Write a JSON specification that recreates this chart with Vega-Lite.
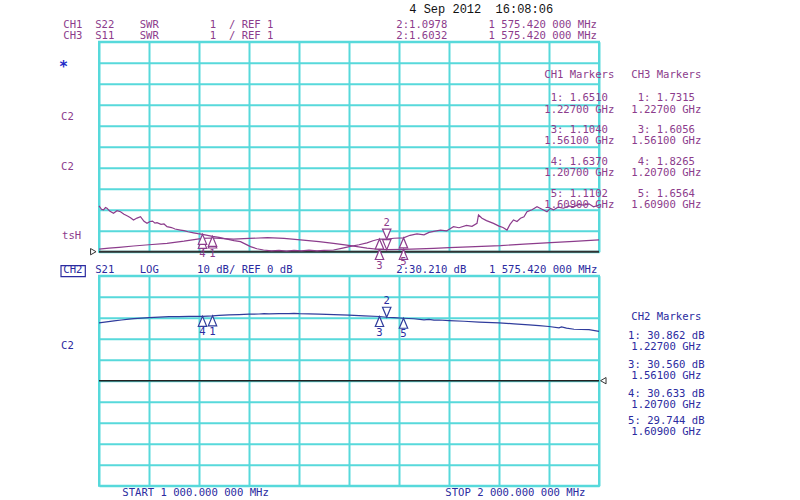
{
  "$schema": "https://vega.github.io/schema/vega-lite/v6.json",
  "background": "white",
  "padding": {"left": 58, "top": 1.7, "right": 5, "bottom": 2},
  "bounds": "flush",
  "spacing": 24,
  "config": {
    "view": {"stroke": "#57D9DB", "strokeWidth": 2},
    "axis": {"grid": true, "labels": false, "ticks": false, "domain": false, "gridColor": "#57D9DB", "gridWidth": 2, "gridOpacity": 1},
    "text": {"font": "DejaVu Sans Mono", "fontSize": 10.6},
    "font": "DejaVu Sans Mono"
  },
  "datasets": {
    "s11": [
      {"f":1000,"v":3.18},{"f":1005,"v":3.02},{"f":1009,"v":2.99},{"f":1013,"v":3.10},{"f":1016,"v":3.07},{"f":1022,"v":2.92},{"f":1029,"v":2.83},{"f":1036,"v":2.95},{"f":1043,"v":2.90},{"f":1050,"v":2.78},{"f":1057,"v":2.70},{"f":1063,"v":2.62},{"f":1069,"v":2.51},{"f":1076,"v":2.60},{"f":1083,"v":2.67},{"f":1090,"v":2.45},{"f":1096,"v":2.35},{"f":1102,"v":2.44},{"f":1107,"v":2.46},{"f":1112,"v":2.36},{"f":1116,"v":2.38},{"f":1124,"v":2.30},{"f":1130,"v":2.32},{"f":1136,"v":2.19},{"f":1145,"v":2.15},{"f":1152,"v":2.08},{"f":1163,"v":2.03},{"f":1170,"v":2.00},{"f":1178,"v":1.95},{"f":1189,"v":1.90},{"f":1198,"v":1.86},{"f":1207,"v":1.8265},{"f":1217,"v":1.78},{"f":1227,"v":1.7315},{"f":1240,"v":1.68},{"f":1256,"v":1.60},{"f":1270,"v":1.53},{"f":1283,"v":1.48},{"f":1293,"v":1.36},{"f":1303,"v":1.24},{"f":1316,"v":1.14},{"f":1329,"v":1.08},{"f":1345,"v":1.04},{"f":1360,"v":1.06},{"f":1375,"v":1.03},{"f":1390,"v":1.06},{"f":1405,"v":1.04},{"f":1420,"v":1.07},{"f":1436,"v":1.04},{"f":1450,"v":1.06},{"f":1469,"v":1.08},{"f":1485,"v":1.16},{"f":1503,"v":1.25},{"f":1520,"v":1.33},{"f":1536,"v":1.42},{"f":1548,"v":1.52},{"f":1561,"v":1.6056},{"f":1575.42,"v":1.6032},{"f":1590,"v":1.64},{"f":1609,"v":1.6564},{"f":1622,"v":1.78},{"f":1636,"v":1.85},{"f":1650,"v":1.80},{"f":1660,"v":1.92},{"f":1672,"v":1.98},{"f":1683,"v":2.03},{"f":1695,"v":1.99},{"f":1709,"v":2.19},{"f":1720,"v":2.14},{"f":1735,"v":2.25},{"f":1746,"v":2.21},{"f":1756,"v":2.35},{"f":1759,"v":2.75},{"f":1766,"v":2.59},{"f":1775,"v":2.48},{"f":1789,"v":2.35},{"f":1800,"v":2.22},{"f":1808,"v":2.15},{"f":1816,"v":2.03},{"f":1822,"v":2.30},{"f":1829,"v":2.51},{"f":1836,"v":2.44},{"f":1843,"v":2.59},{"f":1850,"v":2.66},{"f":1856,"v":2.90},{"f":1866,"v":3.00},{"f":1876,"v":3.14},{"f":1886,"v":3.02},{"f":1896,"v":2.90},{"f":1903,"v":3.06},{"f":1909,"v":2.99},{"f":1918,"v":3.12},{"f":1929,"v":3.07},{"f":1940,"v":3.18},{"f":1949,"v":3.14},{"f":1960,"v":3.25},{"f":1969,"v":3.22},{"f":1980,"v":3.28},{"f":1989,"v":3.14},{"f":2000,"v":3.22}
    ],
    "s22": [
      {"f":1000,"v":1.12},{"f":1020,"v":1.17},{"f":1040,"v":1.21},{"f":1069,"v":1.27},{"f":1100,"v":1.33},{"f":1136,"v":1.40},{"f":1170,"v":1.50},{"f":1207,"v":1.637},{"f":1227,"v":1.651},{"f":1250,"v":1.62},{"f":1269,"v":1.60},{"f":1300,"v":1.63},{"f":1337,"v":1.67},{"f":1370,"v":1.63},{"f":1403,"v":1.56},{"f":1440,"v":1.48},{"f":1469,"v":1.40},{"f":1503,"v":1.29},{"f":1536,"v":1.17},{"f":1561,"v":1.104},{"f":1575.42,"v":1.0978},{"f":1609,"v":1.1102},{"f":1640,"v":1.13},{"f":1669,"v":1.16},{"f":1700,"v":1.19},{"f":1740,"v":1.23},{"f":1803,"v":1.29},{"f":1850,"v":1.36},{"f":1903,"v":1.43},{"f":1950,"v":1.49},{"f":2000,"v":1.56}
    ],
    "s21": [
      {"f":1000,"v":27.5},{"f":1015,"v":28.0},{"f":1030,"v":28.5},{"f":1045,"v":28.9},{"f":1060,"v":29.3},{"f":1070,"v":29.6},{"f":1085,"v":29.8},{"f":1100,"v":30.0},{"f":1120,"v":30.3},{"f":1140,"v":30.5},{"f":1160,"v":30.55},{"f":1180,"v":30.6},{"f":1207,"v":30.633},{"f":1227,"v":30.862},{"f":1240,"v":31.1},{"f":1260,"v":31.3},{"f":1280,"v":31.5},{"f":1300,"v":31.7},{"f":1320,"v":31.75},{"f":1330,"v":31.9},{"f":1340,"v":31.8},{"f":1360,"v":31.95},{"f":1380,"v":31.9},{"f":1390,"v":32.1},{"f":1400,"v":31.9},{"f":1420,"v":31.8},{"f":1440,"v":31.7},{"f":1470,"v":31.5},{"f":1500,"v":31.2},{"f":1530,"v":30.9},{"f":1561,"v":30.56},{"f":1575.42,"v":30.21},{"f":1590,"v":30.0},{"f":1609,"v":29.744},{"f":1630,"v":29.5},{"f":1650,"v":29.0},{"f":1660,"v":29.2},{"f":1670,"v":28.8},{"f":1680,"v":28.9},{"f":1700,"v":28.6},{"f":1730,"v":28.3},{"f":1760,"v":27.9},{"f":1800,"v":27.5},{"f":1830,"v":27.1},{"f":1860,"v":26.6},{"f":1880,"v":26.2},{"f":1900,"v":25.8},{"f":1920,"v":25.2},{"f":1925,"v":25.6},{"f":1935,"v":25.0},{"f":1950,"v":24.5},{"f":1980,"v":24.3},{"f":2000,"v":23.5}
    ],
    "mkTop": [
      {"f":1207,"v":1.637,"k":"up"},{"f":1227,"v":1.651,"k":"up"},{"f":1561,"v":1.104,"k":"up"},{"f":1609,"v":1.1102,"k":"up"},{"f":1575.42,"v":1.0978,"k":"down"},
      {"f":1207,"v":1.8265,"k":"up"},{"f":1227,"v":1.7315,"k":"up"},{"f":1561,"v":1.6056,"k":"up"},{"f":1609,"v":1.6564,"k":"up"},{"f":1575.42,"v":1.6032,"k":"down"}
    ],
    "mkTopLbl": [
      {"f":1207,"v":1.637,"t":"4","k":"up"},{"f":1227,"v":1.651,"t":"1","k":"up"},{"f":1561,"v":1.104,"t":"3","k":"up"},{"f":1609,"v":1.1102,"t":"5","k":"up"},{"f":1575.42,"v":1.6032,"t":"2","k":"down"}
    ],
    "mkBot": [
      {"f":1207,"v":30.633,"k":"up","t":"4"},{"f":1227,"v":30.862,"k":"up","t":"1"},{"f":1561,"v":30.56,"k":"up","t":"3"},{"f":1609,"v":29.744,"k":"up","t":"5"},{"f":1575.42,"v":30.21,"k":"down","t":"2"}
    ],
    "txtTopLeft": [
      {"f":928.6,"v":11.78,"t":"CH1\u00a0\u00a0S22\u00a0\u00a0\u00a0\u00a0SWR\u00a0\u00a0\u00a0\u00a0\u00a0\u00a0\u00a0\u00a01\u00a0\u00a0/\u00a0REF\u00a01"},
      {"f":928.6,"v":11.28,"t":"CH3\u00a0\u00a0S11\u00a0\u00a0\u00a0\u00a0SWR\u00a0\u00a0\u00a0\u00a0\u00a0\u00a0\u00a0\u00a01\u00a0\u00a0/\u00a0REF\u00a01"},
      {"f":1594.6,"v":11.78,"t":"2:1.0978"},
      {"f":1594.6,"v":11.28,"t":"2:1.6032"},
      {"f":1779.2,"v":11.78,"t":"1 575.420 000 MHz"},
      {"f":1779.2,"v":11.28,"t":"1 575.420 000 MHz"},
      {"f":924,"v":7.43,"t":"C2"},
      {"f":924,"v":5.05,"t":"C2"},
      {"f":926,"v":1.75,"t":"tsH"}
    ],
    "txtTopCenter": [
      {"f":1960.6,"v":9.414,"t":"CH1 Markers"},
      {"f":1960.6,"v":8.305,"t":"1: 1.6510"},
      {"f":1960.6,"v":7.748,"t":"1.22700 GHz"},
      {"f":1960.6,"v":6.795,"t":"3: 1.1040"},
      {"f":1960.6,"v":6.271,"t":"1.56100 GHz"},
      {"f":1960.6,"v":5.286,"t":"4: 1.6370"},
      {"f":1960.6,"v":4.762,"t":"1.20700 GHz"},
      {"f":1960.6,"v":3.733,"t":"5: 1.1102"},
      {"f":1960.6,"v":3.224,"t":"1.60900 GHz"},
      {"f":2134.6,"v":9.414,"t":"CH3 Markers"},
      {"f":2134.6,"v":8.305,"t":"1: 1.7315"},
      {"f":2134.6,"v":7.748,"t":"1.22700 GHz"},
      {"f":2134.6,"v":6.795,"t":"3: 1.6056"},
      {"f":2134.6,"v":6.271,"t":"1.56100 GHz"},
      {"f":2134.6,"v":5.286,"t":"4: 1.8265"},
      {"f":2134.6,"v":4.762,"t":"1.20700 GHz"},
      {"f":2134.6,"v":3.733,"t":"5: 1.6564"},
      {"f":2134.6,"v":3.224,"t":"1.60900 GHz"}
    ],
    "txtDate": [{"f":1620.6,"v":12.54,"t":"4 Sep 2012\u00a0\u00a016:08:06"}],
    "txtStar": [{"f":929.2,"v":9.92,"t":"*"}],
    "txtBotLeft": [
      {"f":928.6,"v":52.86,"t":"CH2\u00a0\u00a0S21\u00a0\u00a0\u00a0\u00a0LOG\u00a0\u00a0\u00a0\u00a0\u00a0\u00a010\u00a0dB/\u00a0REF\u00a00\u00a0dB"},
      {"f":1594.6,"v":52.86,"t":"2:30.210 dB"},
      {"f":1780,"v":52.86,"t":"1 575.420 000 MHz"},
      {"f":924,"v":16.67,"t":"C2"},
      {"f":1046.6,"v":-53.33,"t":"START 1 000.000 000 MHz"},
      {"f":1692.6,"v":-53.33,"t":"STOP 2 000.000 000 MHz"}
    ],
    "txtBotCenter": [
      {"f":2134.6,"v":30.14,"t":"CH2 Markers"},
      {"f":2134.6,"v":21.10,"t":"1: 30.862 dB"},
      {"f":2134.6,"v":16.05,"t":"1.22700 GHz"},
      {"f":2134.6,"v":7.29,"t":"3: 30.560 dB"},
      {"f":2134.6,"v":2.05,"t":"1.56100 GHz"},
      {"f":2134.6,"v":-6.33,"t":"4: 30.633 dB"},
      {"f":2134.6,"v":-11.76,"t":"1.20700 GHz"},
      {"f":2134.6,"v":-19.38,"t":"5: 29.744 dB"},
      {"f":2134.6,"v":-24.62,"t":"1.60900 GHz"}
    ],
    "boxCH2": [{"f":924,"f2":972.6,"v":54.8,"v2":49.6}],
    "refTop": [{"f":1000,"f2":2000,"v":1}],
    "refTopMark": [{"f":988.6,"v":1}],
    "refBot": [{"f":1000,"f2":2000,"v":0}],
    "refBotMark": [{"f":2008.6,"v":0}]
  },
  "vconcat": [
    {
      "width": 500,
      "height": 210,
      "encoding": {
        "x": {"field": "f", "type": "quantitative", "title": null, "scale": {"domain": [1000, 2000], "nice": false, "zero": false}, "axis": {"values": [1000,1100,1200,1300,1400,1500,1600,1700,1800,1900,2000]}},
        "y": {"field": "v", "type": "quantitative", "title": null, "scale": {"domain": [1, 11], "nice": false, "zero": false}, "axis": {"values": [1,2,3,4,5,6,7,8,9,10,11]}}
      },
      "layer": [
        {"data": {"name": "refTop"}, "mark": {"type": "rule", "color": "#333333", "strokeWidth": 2}, "encoding": {"x2": {"field": "f2"}}},
        {"data": {"name": "s22"}, "mark": {"type": "line", "color": "#8C3C8C", "strokeWidth": 1.2}},
        {"data": {"name": "s11"}, "mark": {"type": "line", "color": "#8C3C8C", "strokeWidth": 1.2}},
        {"data": {"name": "refTopMark"}, "mark": {"type": "point", "shape": "triangle-right", "size": 40, "filled": true, "fill": "white", "stroke": "#333333", "strokeWidth": 1, "opacity": 1}},
        {"data": {"name": "mkTop"}, "mark": {"type": "point", "size": 400, "filled": true, "fill": "white", "stroke": "#8C3C8C", "strokeWidth": 1.2, "opacity": 1},
         "encoding": {"shape": {"field": "k", "type": "nominal", "scale": {"domain": ["up", "down"], "range": ["M0,0L-0.42,1L0.42,1Z", "M0,0L-0.42,-1L0.42,-1Z"]}, "legend": null}}},
        {"data": {"name": "mkTopLbl"}, "transform": [{"filter": "datum.k == 'up' && datum.t != '5'"}], "mark": {"type": "text", "color": "#8C3C8C", "dy": 16, "baseline": "middle"}, "encoding": {"text": {"field": "t"}}},
        {"data": {"name": "mkTopLbl"}, "transform": [{"filter": "datum.t == '5'"}], "mark": {"type": "text", "color": "#8C3C8C", "dy": 13, "baseline": "middle"}, "encoding": {"text": {"field": "t"}}},
        {"data": {"name": "mkTopLbl"}, "transform": [{"filter": "datum.k == 'down'"}], "mark": {"type": "text", "color": "#8C3C8C", "dy": -16, "baseline": "middle"}, "encoding": {"text": {"field": "t"}}},
        {"data": {"name": "txtTopLeft"}, "mark": {"type": "text", "color": "#8C3C8C", "align": "left", "baseline": "middle"}, "encoding": {"text": {"field": "t"}}},
        {"data": {"name": "txtTopCenter"}, "mark": {"type": "text", "color": "#8C3C8C", "align": "center", "baseline": "middle"}, "encoding": {"text": {"field": "t"}}},
        {"data": {"name": "txtDate"}, "mark": {"type": "text", "color": "#111111", "align": "left", "baseline": "middle", "font": "Liberation Mono", "fontSize": 12}, "encoding": {"text": {"field": "t"}}},
        {"data": {"name": "txtStar"}, "mark": {"type": "text", "color": "#1E2BC8", "align": "center", "baseline": "middle", "fontSize": 15, "fontWeight": "bold", "dy": 3}, "encoding": {"text": {"field": "t"}}}
      ]
    },
    {
      "width": 500,
      "height": 210,
      "encoding": {
        "x": {"field": "f", "type": "quantitative", "title": null, "scale": {"domain": [1000, 2000], "nice": false, "zero": false}, "axis": {"values": [1000,1100,1200,1300,1400,1500,1600,1700,1800,1900,2000]}},
        "y": {"field": "v", "type": "quantitative", "title": null, "scale": {"domain": [-50, 50], "nice": false, "zero": false}, "axis": {"values": [-50,-40,-30,-20,-10,0,10,20,30,40,50]}}
      },
      "layer": [
        {"data": {"name": "refBot"}, "mark": {"type": "rule", "color": "#222222", "strokeWidth": 1.5}, "encoding": {"x2": {"field": "f2"}}},
        {"data": {"name": "s21"}, "mark": {"type": "line", "color": "#2F3C9C", "strokeWidth": 1.2}},
        {"data": {"name": "refBotMark"}, "mark": {"type": "point", "shape": "triangle-left", "size": 40, "filled": true, "fill": "white", "stroke": "#333333", "strokeWidth": 1, "opacity": 1}},
        {"data": {"name": "mkBot"}, "mark": {"type": "point", "size": 400, "filled": true, "fill": "white", "stroke": "#2F3C9C", "strokeWidth": 1.2, "opacity": 1},
         "encoding": {"shape": {"field": "k", "type": "nominal", "scale": {"domain": ["up", "down"], "range": ["M0,0L-0.42,1L0.42,1Z", "M0,0L-0.42,-1L0.42,-1Z"]}, "legend": null}}},
        {"data": {"name": "mkBot"}, "transform": [{"filter": "datum.k == 'up'"}], "mark": {"type": "text", "color": "#2B2BA0", "dy": 16, "baseline": "middle"}, "encoding": {"text": {"field": "t"}}},
        {"data": {"name": "mkBot"}, "transform": [{"filter": "datum.k == 'down'"}], "mark": {"type": "text", "color": "#2B2BA0", "dy": -16, "baseline": "middle"}, "encoding": {"text": {"field": "t"}}},
        {"data": {"name": "boxCH2"}, "mark": {"type": "rect", "filled": false, "stroke": "#2B2BA0", "strokeWidth": 1.2}, "encoding": {"x2": {"field": "f2"}, "y2": {"field": "v2"}}},
        {"data": {"name": "txtBotLeft"}, "mark": {"type": "text", "color": "#2B2BA0", "align": "left", "baseline": "middle"}, "encoding": {"text": {"field": "t"}}},
        {"data": {"name": "txtBotCenter"}, "mark": {"type": "text", "color": "#2B2BA0", "align": "center", "baseline": "middle"}, "encoding": {"text": {"field": "t"}}}
      ]
    }
  ]
}
